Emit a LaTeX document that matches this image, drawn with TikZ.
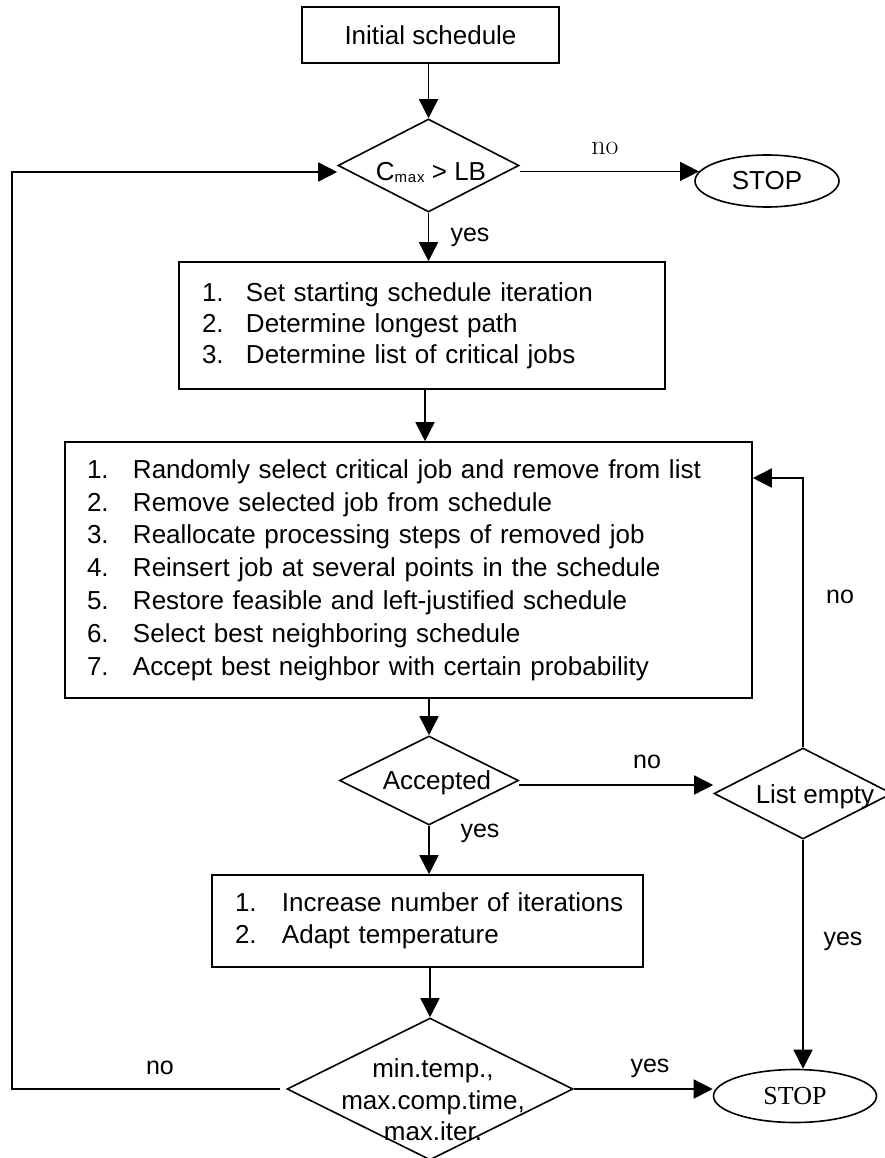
\documentclass[tikz,border=0pt]{standalone}
\usepackage{fontspec}
\newfontfamily\arial{Liberation Sans}
\newfontfamily\tnr{Liberation Serif}
\usetikzlibrary{arrows.meta,shapes.geometric}
\tikzset{
  arr/.style={-{Triangle[length=19pt,width=19pt]}},
  boxnode/.style={draw, rectangle, inner xsep=0pt, inner ysep=0pt, align=left},
  dianode/.style={draw, diamond, inner sep=0pt},
  ovalnode/.style={draw, ellipse, inner sep=0pt},
  lbl/.style={inner sep=0pt},
  sans/.style={font={\arial\fontsize{26}{31}\selectfont}},
  lblsans/.style={lbl, font={\arial\fontsize{25}{30}\selectfont}},
}
\newcommand\itm[3]{\mbox{\makebox[#1][l]{#2}#3}}
\begin{document}
\begin{tikzpicture}[x=1pt,y=-1pt,line width=1.6pt]
\useasboundingbox (0,0) rectangle (885,1158);

% nodes
\node[boxnode, sans, minimum width=257pt, minimum height=56pt, align=center] (init) at (430.5,35) {Initial schedule};
\node[dianode, minimum width=181pt, minimum height=93pt] (cmax) at (428.5,165.5) {};
\node[lbl, sans] (cmaxtxt) at (431,172) {C\raisebox{-2pt}{\fontsize{15}{15}\selectfont m\kern0.8pt a\kern0.8pt x}\ {>} LB};
\node[ovalnode, sans, minimum width=144pt, minimum height=52pt] (stop1) at (767,181) {STOP};

\node[boxnode, font={\arial\fontsize{26}{31}\selectfont}, minimum width=486pt, minimum height=127pt, text width=440pt] (box2) at (422,325.5)
 {\itm{44pt}{1.}{Set starting schedule iteration}\\
  \itm{44pt}{2.}{Determine longest path}\\
  \itm{44pt}{3.}{Determine list of critical jobs}};

\node[boxnode, font={\arial\fontsize{26}{32.8}\selectfont}, minimum width=687pt, minimum height=256pt, text width=643pt] (box3) at (408.5,570)
 {\itm{46pt}{1.}{Randomly select critical job and remove from list}\\
  \itm{46pt}{2.}{Remove selected job from schedule}\\
  \itm{46pt}{3.}{Reallocate processing steps of removed job}\\
  \itm{46pt}{4.}{Reinsert job at several points in the schedule}\\
  \itm{46pt}{5.}{Restore feasible and left-justified schedule}\\
  \itm{46pt}{6.}{Select best neighboring schedule}\\
  \itm{46pt}{7.}{Accept best neighbor with certain probability}};

\node[dianode, minimum width=179pt, minimum height=89pt] (acc) at (429,780.5) {};
\node[lbl, sans] (acctxt) at (437,783) {Accepted};

\node[dianode, minimum width=178pt, minimum height=91pt] (lempty) at (803,793.5) {};
\node[lbl, sans] (lemptytxt) at (815,797) {List empty};

\node[boxnode, font={\arial\fontsize{26}{32}\selectfont}, minimum width=431pt, minimum height=92pt, text width=385pt] (box4) at (427.5,921)
 {\itm{47pt}{1.}{Increase number of iterations}\\
  \itm{47pt}{2.}{Adapt temperature}};

\node[dianode, minimum width=286pt, minimum height=142pt] (term) at (430,1089) {};
\node[lbl, font={\arial\fontsize{26}{31.5}\selectfont}, align=center] (termtxt) at (433,1100) {min.temp.,\\max.comp.time,\\max.iter.};

\node[ovalnode, font={\tnr\fontsize{26}{31}\selectfont}, minimum width=163pt, minimum height=53pt] (stop2) at (795,1096) {STOP};

% loop coordinates
\coordinate (lp1) at (12,1089);
\coordinate (lp2) at (12,172);

% connectors
\draw[arr] (cmax.north |- init.south) -- (cmax.north);
\draw[arr] (cmax.east |- stop1.172) -- (stop1.172);
\draw[arr] (cmax.south) -- (cmax.south |- box2.north);
\draw[arr] ([xshift=3pt]box2.south) -- ([xshift=3pt]box2.south |- box3.north);
\draw[arr] (acc.north |- box3.south) -- (acc.north);
\draw[arr] ([yshift=-4.5pt]acc.east) -- ([yshift=-4.5pt]acc.east -| lempty.west);
\draw[arr] (acc.south) -- (acc.south |- box4.north);
\draw[arr] (term.north |- box4.south) -- (term.north);
\draw[arr] (lempty.north) |- ([yshift=92pt]box3.east);
\draw[arr] (lempty.south) -- (lempty.south |- stop2.north);
\draw[arr] (term.east) -- (term.east -| stop2.west);
\draw[arr] ([xshift=-6pt]term.west) -- (lp1) -- (lp2) -- (cmax.west |- lp2);

% labels
\node[lbl, font={\fontsize{28}{31}\selectfont}] (no1) at (605,148) {no};
\node[lblsans] (yes1) at (470,237) {yes};
\node[lblsans] (no2) at (647,762) {no};
\node[lblsans] (no3) at (840,597) {no};
\node[lblsans] (yes2) at (480,833) {yes};
\node[lblsans] (yes3) at (843,941) {yes};
\node[lblsans] (no4) at (160,1068) {no};
\node[lblsans] (yes4) at (650,1068) {yes};
\end{tikzpicture}
\end{document}
